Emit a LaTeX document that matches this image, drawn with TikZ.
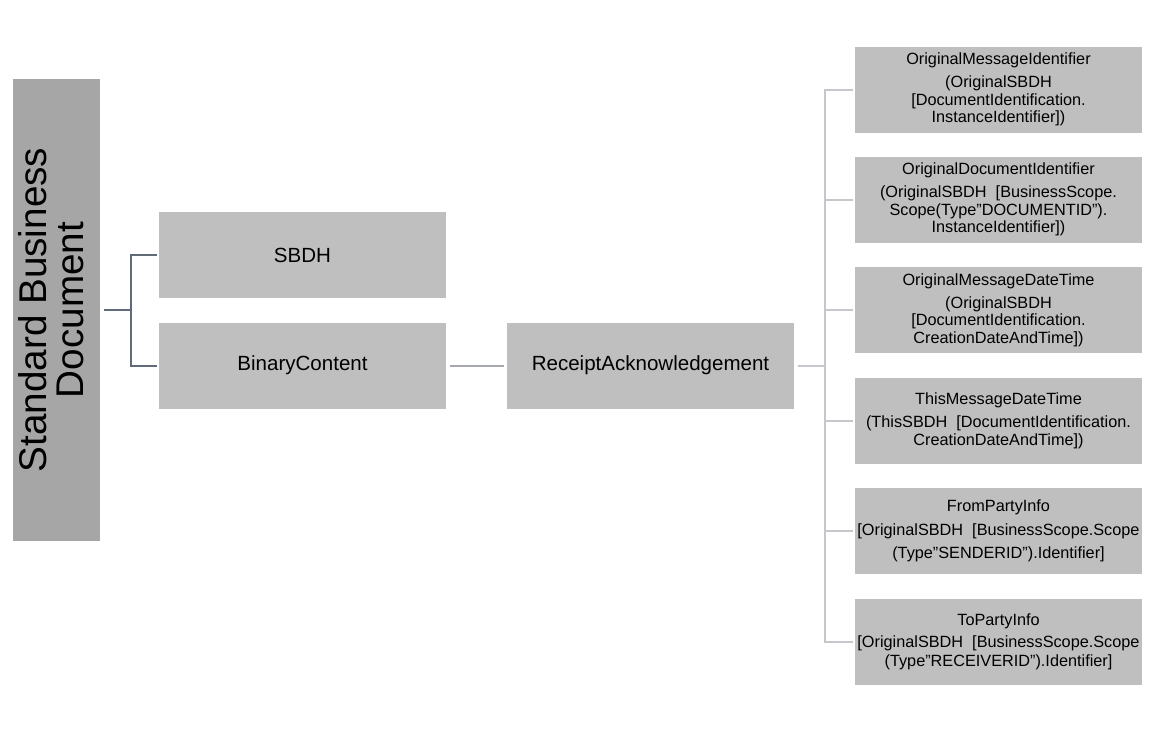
\documentclass[tikz,border=0pt]{standalone}
\usepackage{fontspec}
\setmainfont{Liberation Sans}

\definecolor{rootgrey}{RGB}{166,166,166}
\definecolor{boxgrey}{RGB}{191,191,191}
\definecolor{slateline}{RGB}{96,106,122}
\definecolor{midline}{RGB}{165,168,174}
\definecolor{lightline}{RGB}{198,198,204}

\tikzset{every picture/.style={line width=0.75pt}}
\tikzset{
	rootbox/.style={fill=rootgrey, minimum width=65.25pt, minimum height=346.5pt, inner sep=0pt, align=center},
	sbdbox/.style={fill=boxgrey, minimum width=215.25pt, minimum height=64.5pt, inner sep=0pt, align=center, font=\fontsize{15.4}{17}\selectfont},
	infobox/.style={fill=boxgrey, minimum width=215.25pt, minimum height=64.5pt, inner sep=0pt, align=center, font=\fontsize{12.2}{13.1}\selectfont},
	branch/.style={line width=1.5pt, shorten <=2.25pt, shorten >=1.5pt},
}

\begin{document}
\begin{tikzpicture}[x=0.75pt,y=0.75pt,yscale=-1,xscale=1]
	\useasboundingbox (0,0) rectangle (1150,732);

	%Shape: Rectangle [root]
	\node[rootbox] (root) at (56.5,310) {\rotatebox{90}{\fontsize{29}{27.75}\selectfont\begin{tabular}{@{}c@{}}Standard Business\\Document\end{tabular}}};
	%Shape: Rectangle [sbdh]
	\node[sbdbox] (sbdh) at (302.5,255) {SBDH};
	%Shape: Rectangle [binary]
	\node[sbdbox] (binary) at (302.5,365.5) {BinaryContent};
	%Shape: Rectangle [receipt]
	\node[sbdbox] (receipt) at (650.5,365.5) {ReceiptAcknowledgement};

	%Shape: Rectangle [origmsgid]
	\node[infobox] (origmsgid) at (998.5,89.5) {OriginalMessageIdentifier\\[4.5pt] (OriginalSBDH\\ {[}DocumentIdentification.\\ InstanceIdentifier])};
	%Shape: Rectangle [origdocid]
	\node[infobox] (origdocid) at (998.5,199.5) {OriginalDocumentIdentifier\\[4.5pt] (OriginalSBDH~ [BusinessScope.\\ Scope(Type”DOCUMENTID”).\\ InstanceIdentifier])};
	%Shape: Rectangle [origdate]
	\node[infobox] (origdate) at (998.5,310) {OriginalMessageDateTime\\[4.5pt] (OriginalSBDH\\ {[}DocumentIdentification.\\ CreationDateAndTime])};
	%Shape: Rectangle [thisdate]
	\node[infobox] (thisdate) at (998.5,420.5) {ThisMessageDateTime\\[4.5pt] (ThisSBDH~ [DocumentIdentification.\\ CreationDateAndTime])};
	%Shape: Rectangle [fromparty]
	\node[infobox] (fromparty) at (998.5,531) {FromPartyInfo\\[4.5pt] {[}OriginalSBDH~ [BusinessScope.Scope\\[4.5pt] (Type”SENDERID”).Identifier]};
	%Shape: Rectangle [toparty]
	\node[infobox] (toparty) at (998.5,641.5) {ToPartyInfo\\[3.4pt] {[}OriginalSBDH~ [BusinessScope.Scope\\[1pt] (Type”RECEIVERID”).Identifier]};

	%Connectors
	\draw[branch, slateline] (root.east) -- ++(30,0) |- (sbdh.west);
	\draw[branch, slateline] (root.east) -- ++(30,0) |- (binary.west);
	\draw[branch, midline, shorten >=2.25pt] (binary.east) -- (receipt.west);
	\foreach \leaf in {origmsgid,origdocid,origdate,thisdate,fromparty,toparty}
		\draw[branch, lightline] (receipt.east) -- ++(30,0) |- (\leaf.west);

\end{tikzpicture}
\end{document}
